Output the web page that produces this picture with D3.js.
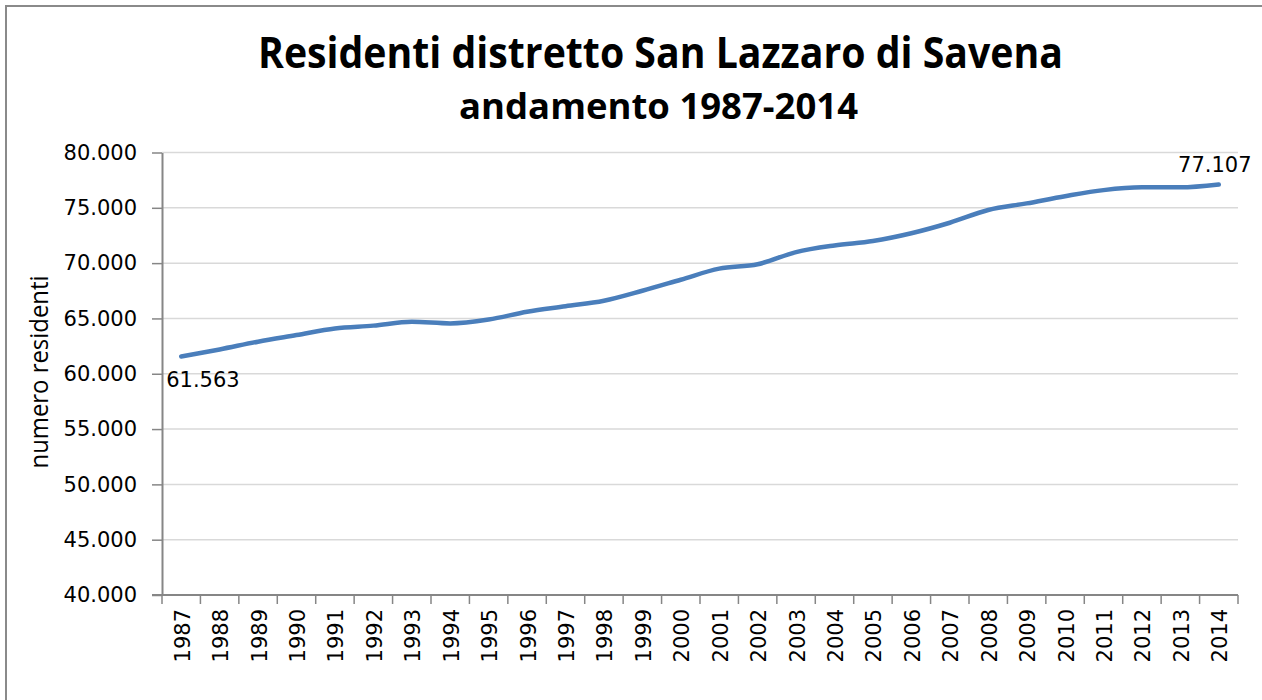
<!DOCTYPE html>
<html>
<head>
<meta charset="utf-8">
<script src="https://cdn.jsdelivr.net/npm/d3@7"></script>
<style>
  body { margin: 0; background: #fff; }
  svg { display: block; }
</style>
</head>
<body>
<script>
//chart data
var years = ["1987","1988","1989","1990","1991","1992","1993","1994","1995","1996","1997","1998","1999","2000",
             "2001","2002","2003","2004","2005","2006","2007","2008","2009","2010","2011","2012","2013","2014"];
var residenti = [61563, 62200, 62900, 63500, 64100, 64350, 64700, 64550, 64900, 65600, 66100, 66600, 67500, 68500,
                 69500, 69900, 71000, 71600, 72000, 72700, 73650, 74800, 75400, 76050, 76600, 76850, 76850, 77107];
var yTicks = [40000, 45000, 50000, 55000, 60000, 65000, 70000, 75000, 80000];
var titleText = "Residenti distretto San Lazzaro di Savena";
var subtitleText = "andamento 1987-2014";
var yTitleText = "numero residenti";

var width = 1262, height = 700;
var plot = {left: 162, right: 1238, top: 152.5, bottom: 595};

var svg = d3.select("body").append("svg")
    .attr("width", width)
    .attr("height", height);

//frame (only top and left edges visible)
svg.append("path")
    .attr("d", "M6,700 V6 H1262")
    .attr("fill", "none")
    .attr("stroke", "#8a8a8a")
    .attr("stroke-width", 2);

//scales
var x = d3.scaleBand().domain(years).range([plot.left, plot.right]);
var y = d3.scaleLinear().domain([40000, 80000]).range([plot.bottom, plot.top]);

var fmt = function(v){ return d3.format(",")(v).replace(/,/g, "."); };

//gridlines
svg.append("g").selectAll("line")
    .data(yTicks.filter(function(d){ return d > 40000; }))
    .enter().append("line")
    .attr("x1", plot.left).attr("x2", plot.right)
    .attr("y1", function(d){ return y(d); })
    .attr("y2", function(d){ return y(d); })
    .attr("stroke", "#d9d9d9")
    .attr("stroke-width", 1.5);

//y axis
var yAxis = svg.append("g")
    .attr("transform", "translate(" + plot.left + ",0)")
    .call(d3.axisLeft(y).tickValues(yTicks).tickFormat(fmt).tickSize(10).tickSizeOuter(0).tickPadding(15));
yAxis.select(".domain").attr("stroke", "#868686").attr("stroke-width", 2);
yAxis.selectAll(".tick line").attr("stroke", "#868686").attr("stroke-width", 1.5);
yAxis.selectAll("text")
    .attr("font-family", "DejaVu Sans")
    .attr("font-size", 21)
    .attr("fill", "#000");

//x axis: ticks between categories
var xAxisG = svg.append("g");
xAxisG.append("line")
    .attr("x1", plot.left - 10).attr("x2", plot.right)
    .attr("y1", plot.bottom).attr("y2", plot.bottom)
    .attr("stroke", "#868686").attr("stroke-width", 2);
var edges = years.map(function(d){ return x(d); }).concat([plot.right]);
xAxisG.selectAll(".xtick")
    .data(edges)
    .enter().append("line")
    .attr("class", "xtick")
    .attr("x1", function(d){ return d; })
    .attr("x2", function(d){ return d; })
    .attr("y1", plot.bottom).attr("y2", plot.bottom + 9)
    .attr("stroke", "#868686").attr("stroke-width", 1.5);
xAxisG.selectAll(".xlabel")
    .data(years)
    .enter().append("text")
    .attr("class", "xlabel")
    .attr("transform", function(d){
        return "translate(" + (x(d) + x.bandwidth() / 2 + 1) + "," + (plot.bottom + 14) + ") rotate(-90)";
    })
    .attr("text-anchor", "end")
    .attr("dy", "0.36em")
    .attr("font-family", "DejaVu Sans")
    .attr("font-size", 21)
    .attr("fill", "#000")
    .text(function(d){ return d; });

//line
var line = d3.line()
    .x(function(d, i){ return x(years[i]) + x.bandwidth() / 2; })
    .y(function(d){ return y(d); })
    .curve(d3.curveMonotoneX);

svg.append("path")
    .datum(residenti)
    .attr("d", line)
    .attr("fill", "none")
    .attr("stroke", "#4a7ebb")
    .attr("stroke-width", 4.5)
    .attr("stroke-linecap", "round");

//data labels for first and last point
var first = 0, last = residenti.length - 1;
svg.append("text")
    .attr("x", x(years[first]) + x.bandwidth() / 2 - 15)
    .attr("y", y(residenti[first]) + 31)
    .attr("font-family", "DejaVu Sans")
    .attr("font-size", 21)
    .attr("fill", "#000")
    .text(fmt(residenti[first]));
svg.append("text")
    .attr("x", x(years[last]) + x.bandwidth() / 2 - 4)
    .attr("y", y(residenti[last]) - 13)
    .attr("text-anchor", "middle")
    .attr("font-family", "DejaVu Sans")
    .attr("font-size", 21)
    .attr("fill", "#000")
    .text(fmt(residenti[last]));

//titles
svg.append("text")
    .attr("x", 258).attr("y", 68)
    .attr("font-family", "Open Sans")
    .attr("font-weight", "bold")
    .attr("font-size", 43)
    .attr("textLength", 805)
    .attr("lengthAdjust", "spacingAndGlyphs")
    .attr("fill", "#000")
    .text(titleText);
svg.append("text")
    .attr("x", 459).attr("y", 119)
    .attr("font-family", "Open Sans")
    .attr("font-weight", "bold")
    .attr("font-size", 35)
    .attr("textLength", 399)
    .attr("lengthAdjust", "spacingAndGlyphs")
    .attr("fill", "#000")
    .text(subtitleText);

//y axis title
svg.append("text")
    .attr("transform", "translate(48,372) rotate(-90)")
    .attr("text-anchor", "middle")
    .attr("font-family", "Open Sans")
    .attr("font-size", 25)
    .attr("textLength", 193)
    .attr("lengthAdjust", "spacingAndGlyphs")
    .attr("fill", "#000")
    .text(yTitleText);
</script>
</body>
</html>
